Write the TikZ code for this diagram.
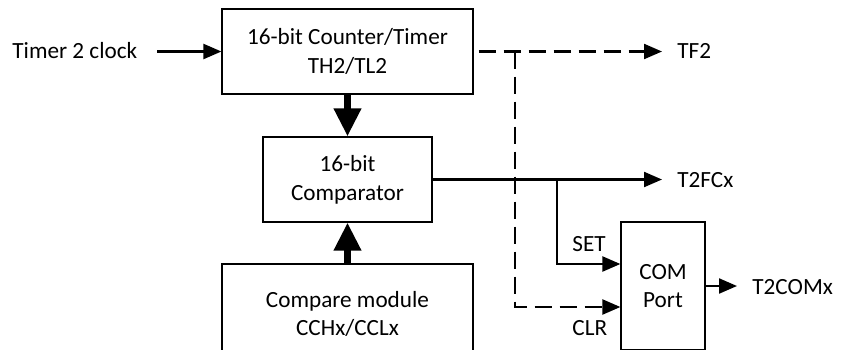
\documentclass[tikz,border=0pt]{standalone}
\usepackage{fontspec}
\setmainfont{Carlito}
\usetikzlibrary{arrows.meta}
\begin{document}
\begin{tikzpicture}[x=0.5pt,y=-0.5pt,
  every node/.style={font=\fontsize{11.6}{14.4}\selectfont, inner sep=0pt},
  box/.style={draw, line width=0.6pt, align=center},
  conn/.style={line width=1.1pt, -{Triangle[length=9pt,width=7.5pt]}},
  dashline/.style={line width=1.1pt, dash pattern=on 8.5pt off 4pt},
  bus/.style={line width=3.4pt, -{Triangle[length=14pt,width=13pt]}},
  lbl/.style={anchor=base west}]
\clip (0,0) rectangle (852,349);
% boxes
\node[box, minimum width=125.5pt, minimum height=42.5pt] (counter) at (347.5,51.5) {16-bit Counter/Timer\\TH2/TL2};
\node[box, minimum width=84.5pt, minimum height=42.5pt] (comp) at (347.5,179.5) {16-bit\\Comparator};
\node[box, minimum width=125.5pt, minimum height=50pt] (module) at (347.5,314) {Compare module\\CCHx/CCLx};
\node[box, minimum width=42pt, minimum height=64pt] (com) at (663,286) {COM\\Port};
% labels
\node[lbl] (clk) at (12,58) {Timer 2 clock};
\node[lbl] (tf2) at (677,58) {TF2};
\node[lbl] (t2fcx) at (677,187) {T2FCx};
\node[lbl] (set) at (572,251) {SET};
\node[lbl] (clr) at (572,335) {CLR};
\node[lbl] (t2comx) at (752,294) {T2COMx};
% coordinates
\coordinate (clkend) at (157,51.5);
\coordinate (tf2tip) at (662,51.5);
\coordinate (split) at (515,51.5);
\coordinate (br) at (557,179.5);
\coordinate (fctip) at (662,179.5);
\coordinate (comtip) at (737,286);
% connectors
\draw[bus] (counter.south) -- (comp.north);
\draw[bus] (module.north) -- (comp.south);
\draw[conn] (clkend) -- (counter.west);
\draw[conn, dashline] ([xshift=2.5pt]counter.east) -- (tf2tip);
\draw[conn, dashline] (split) |- ([yshift=-10.5pt]com.west);
\draw[conn] (comp.east) -- (fctip);
\draw[conn] (br) |- ([yshift=11pt]com.west);
\draw[conn] (com.east) -- (comtip);
\end{tikzpicture}
\end{document}
